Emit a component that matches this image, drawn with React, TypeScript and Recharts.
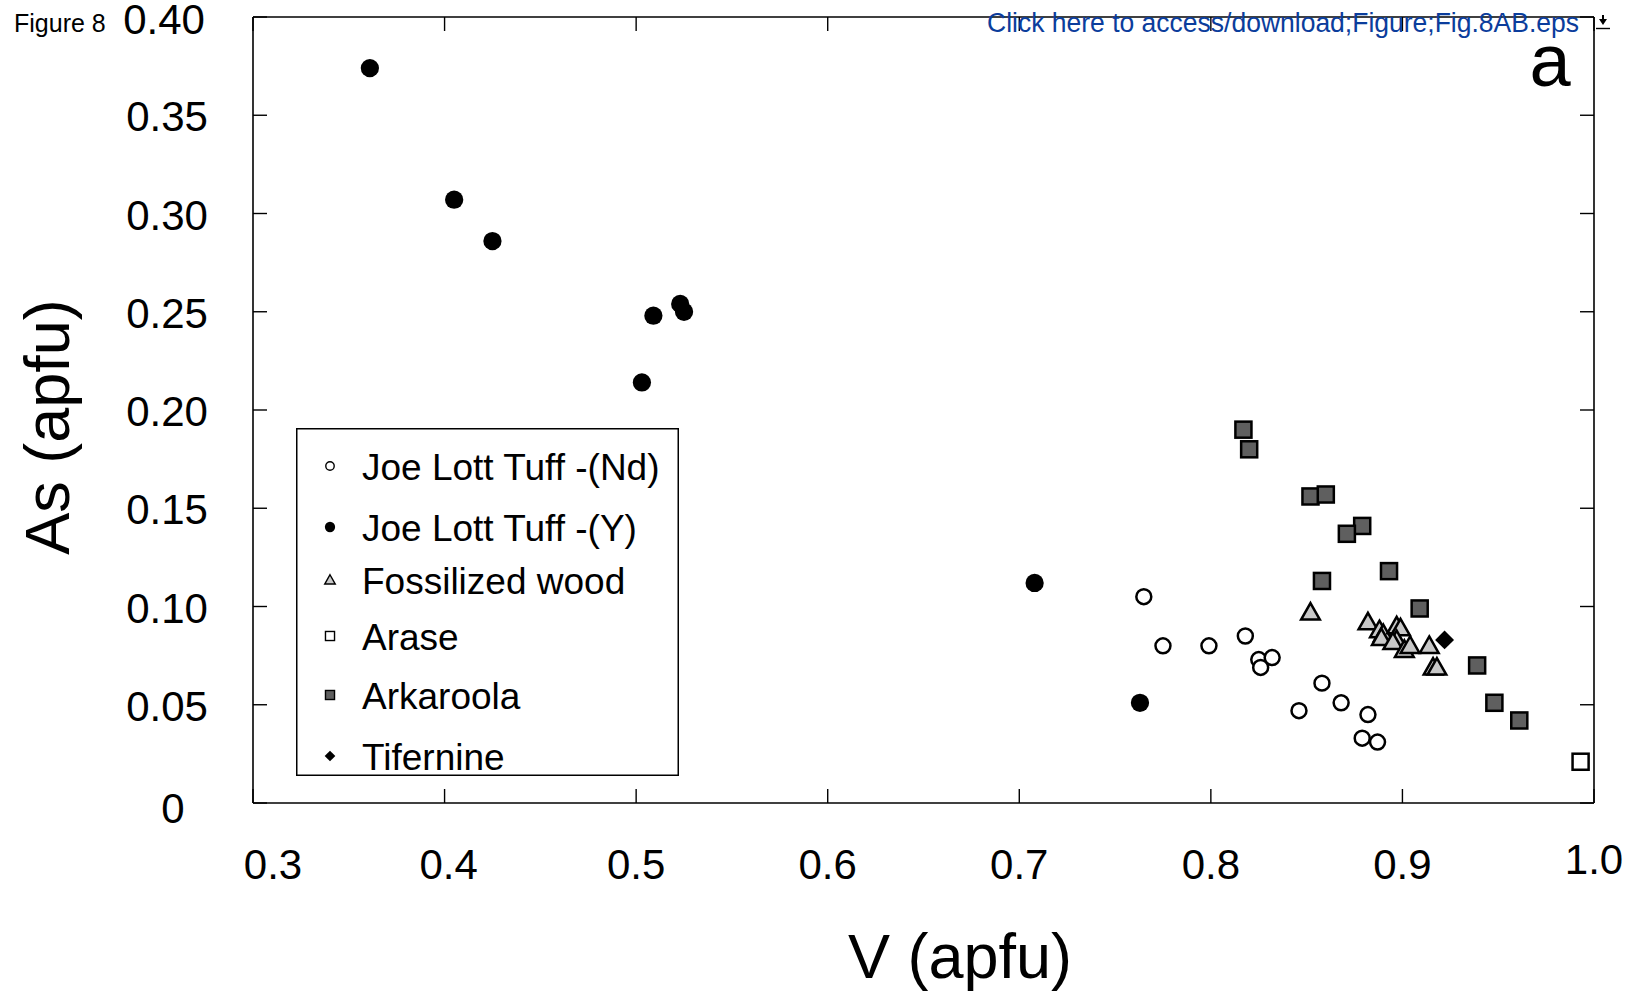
import React from 'react';
import { ScatterChart, Scatter, XAxis, YAxis, Legend } from 'recharts';

// ---------- data ----------
const X_TICKS = [0.3, 0.4, 0.5, 0.6, 0.7, 0.8, 0.9, 1.0];
const X_TICK_LABELS = ['0.3', '0.4', '0.5', '0.6', '0.7', '0.8', '0.9', '1.0'];
const Y_TICKS = [0, 0.05, 0.1, 0.15, 0.2, 0.25, 0.3, 0.35, 0.4];
const Y_TICK_LABELS = ['0', '0.05', '0.10', '0.15', '0.20', '0.25', '0.30', '0.35', '0.40'];

const joeLottNd = [
  { x: 0.765, y: 0.105 },
  { x: 0.775, y: 0.08 },
  { x: 0.799, y: 0.08 },
  { x: 0.818, y: 0.085 },
  { x: 0.825, y: 0.073 },
  { x: 0.826, y: 0.069 },
  { x: 0.832, y: 0.074 },
  { x: 0.858, y: 0.061 },
  { x: 0.846, y: 0.047 },
  { x: 0.868, y: 0.051 },
  { x: 0.882, y: 0.045 },
  { x: 0.879, y: 0.033 },
  { x: 0.887, y: 0.031 },
];

const joeLottY = [
  { x: 0.361, y: 0.374 },
  { x: 0.405, y: 0.307 },
  { x: 0.425, y: 0.286 },
  { x: 0.509, y: 0.248 },
  { x: 0.523, y: 0.254 },
  { x: 0.525, y: 0.25 },
  { x: 0.503, y: 0.214 },
  { x: 0.708, y: 0.112 },
  { x: 0.763, y: 0.051 },
];

const fossilizedWood = [
  { x: 0.852, y: 0.097 },
  { x: 0.882, y: 0.092 },
  { x: 0.888, y: 0.088 },
  { x: 0.89, y: 0.086 },
  { x: 0.889, y: 0.084 },
  { x: 0.897, y: 0.09 },
  { x: 0.899, y: 0.089 },
  { x: 0.897, y: 0.083 },
  { x: 0.895, y: 0.082 },
  { x: 0.901, y: 0.078 },
  { x: 0.904, y: 0.08 },
  { x: 0.914, y: 0.08 },
  { x: 0.916, y: 0.069 },
  { x: 0.918, y: 0.069 },
];

const arase = [{ x: 0.993, y: 0.021 }];

const arkaroola = [
  { x: 0.817, y: 0.19 },
  { x: 0.82, y: 0.18 },
  { x: 0.852, y: 0.156 },
  { x: 0.86, y: 0.157 },
  { x: 0.879, y: 0.141 },
  { x: 0.871, y: 0.137 },
  { x: 0.893, y: 0.118 },
  { x: 0.858, y: 0.113 },
  { x: 0.909, y: 0.099 },
  { x: 0.939, y: 0.07 },
  { x: 0.948, y: 0.051 },
  { x: 0.961, y: 0.042 },
];

const tifernine = [{ x: 0.922, y: 0.083 }];

// ---------- styling ----------
const FONT = '"Liberation Sans", Arial, Helvetica, sans-serif';

type Kind = 'circleOpen' | 'circleFilled' | 'triangle' | 'squareOpen' | 'squareDark' | 'diamond';

const SERIES: { name: string; data: { x: number; y: number }[]; kind: Kind }[] = [
  { name: 'Joe Lott Tuff -(Nd)', data: joeLottNd, kind: 'circleOpen' },
  { name: 'Joe Lott Tuff -(Y)', data: joeLottY, kind: 'circleFilled' },
  { name: 'Fossilized wood', data: fossilizedWood, kind: 'triangle' },
  { name: 'Arase', data: arase, kind: 'squareOpen' },
  { name: 'Arkaroola', data: arkaroola, kind: 'squareDark' },
  { name: 'Tifernine', data: tifernine, kind: 'diamond' },
];

function marker(kind: Kind, cx: number, cy: number, k: number, key?: string) {
  // k ~1.1 for plot markers, ~0.6 for legend markers
  const sw = k > 0.9 ? 2.5 : 1.4;
  switch (kind) {
    case 'circleOpen':
      return <circle key={key} cx={cx} cy={cy} r={6.8 * k} fill="#fff" stroke="#000" strokeWidth={sw} />;
    case 'circleFilled':
      return <circle key={key} cx={cx} cy={cy} r={8.3 * k} fill="#000" stroke="none" />;
    case 'triangle': {
      const hw = 8.5 * k;
      const top = 8.5 * k;
      const bot = 6.5 * k;
      return (
        <path
          key={key}
          d={`M${cx},${cy - top} L${cx + hw},${cy + bot} L${cx - hw},${cy + bot} Z`}
          fill="#c8c8c8"
          stroke="#000"
          strokeWidth={sw}
          strokeLinejoin="miter"
        />
      );
    }
    case 'squareOpen':
    case 'squareDark': {
      const s = 14.6 * k;
      return (
        <rect
          key={key}
          x={cx - s / 2}
          y={cy - s / 2}
          width={s}
          height={s}
          fill={kind === 'squareOpen' ? '#fff' : '#5f5f5f'}
          stroke="#000"
          strokeWidth={sw}
        />
      );
    }
    case 'diamond': {
      const h = 8.6 * k;
      return (
        <path key={key} d={`M${cx},${cy - h} L${cx + h},${cy} L${cx},${cy + h} L${cx - h},${cy} Z`} fill="#000" />
      );
    }
  }
  return null;
}

const tickIndex = (arr: number[], v: number) => arr.findIndex((t) => Math.abs(t - v) < 1e-9);

const BottomTick = (props: any) => {
  const { x, y, payload } = props;
  const v = payload.value;
  const i = tickIndex(X_TICKS, v);
  const label = i >= 0 ? X_TICK_LABELS[i] : String(v);
  const dx = Math.abs(v - 0.3) < 1e-9 ? 20 : Math.abs(v - 0.4) < 1e-9 ? 4 : 0;
  const dy = Math.abs(v - 1) < 1e-9 ? 71 : 76;
  return (
    <g>
      <line x1={x} y1={y} x2={x} y2={y - 14} stroke="#000" strokeWidth={1.4} />
      <text x={x + dx} y={y + dy} textAnchor="middle" fontSize={42} fontFamily={FONT} fill="#000">
        {label}
      </text>
    </g>
  );
};

const TopTick = (props: any) => {
  const { x, y } = props;
  return <line x1={x} y1={y} x2={x} y2={y + 14} stroke="#000" strokeWidth={1.4} />;
};

const LeftTick = (props: any) => {
  const { x, y, payload } = props;
  const v = payload.value;
  const i = tickIndex(Y_TICKS, v);
  const label = i >= 0 ? Y_TICK_LABELS[i] : String(v);
  const isZero = Math.abs(v) < 1e-9;
  const isTop = Math.abs(v - 0.4) < 1e-9;
  return (
    <g>
      <line x1={x} y1={y} x2={x + 14} y2={y} stroke="#000" strokeWidth={1.4} />
      <text
        x={x - 86 + (isZero ? 6 : isTop ? -3 : 0)}
        y={y + (isZero ? 20 : isTop ? 17 : 16)}
        textAnchor="middle"
        fontSize={42}
        fontFamily={FONT}
        fill="#000"
      >
        {label}
      </text>
    </g>
  );
};

const RightTick = (props: any) => {
  const { x, y } = props;
  return <line x1={x} y1={y} x2={x - 14} y2={y} stroke="#000" strokeWidth={1.4} />;
};

const LEGEND_W = 383;
const LEGEND_H = 348;
const LEGEND_ROWS = [39, 100, 153, 209, 268, 329];

const LegendBox = () => (
  <svg width={LEGEND_W} height={LEGEND_H} style={{ display: 'block', overflow: 'visible' }}>
    <rect x={0.75} y={0.75} width={LEGEND_W - 1.5} height={LEGEND_H - 1.5} fill="#fff" stroke="#000" strokeWidth={1.5} />
    {SERIES.map((s, i) => (
      <g key={s.name}>
        {marker(s.kind, 34, LEGEND_ROWS[i] - 1, 0.62)}
        <text x={66} y={LEGEND_ROWS[i] + 13} fontSize={37} fontFamily={FONT} fill="#000">
          {s.name}
        </text>
      </g>
    ))}
  </svg>
);

const AXIS_LINE = { stroke: '#000', strokeWidth: 1.6 };

export default function App() {
  return (
    <div style={{ position: 'absolute', left: 0, top: 0, width: 1632, height: 997, background: '#fff' }}>
      <ScatterChart width={1632} height={997} margin={{ top: 17, right: 38, bottom: 0, left: 0 }}>
        <XAxis
          xAxisId="b"
          type="number"
          dataKey="x"
          orientation="bottom"
          domain={[0.3, 1]}
          ticks={X_TICKS}
          interval={0}
          allowDataOverflow
          height={194}
          tickLine={false}
          tickSize={0}
          tickMargin={0}
          axisLine={AXIS_LINE}
          tick={(p: any) => <BottomTick {...p} />}
        />
        <XAxis
          xAxisId="t"
          type="number"
          dataKey="x"
          orientation="top"
          mirror
          domain={[0.3, 1]}
          ticks={X_TICKS}
          interval={0}
          allowDataOverflow
          tickLine={false}
          tickSize={0}
          tickMargin={0}
          axisLine={AXIS_LINE}
          tick={(p: any) => <TopTick {...p} />}
        />
        <YAxis
          yAxisId="l"
          type="number"
          dataKey="y"
          orientation="left"
          domain={[0, 0.4]}
          ticks={Y_TICKS}
          interval={0}
          allowDataOverflow
          width={253}
          tickLine={false}
          tickSize={0}
          tickMargin={0}
          axisLine={AXIS_LINE}
          tick={(p: any) => <LeftTick {...p} />}
        />
        <YAxis
          yAxisId="r"
          type="number"
          dataKey="y"
          orientation="right"
          mirror
          domain={[0, 0.4]}
          ticks={Y_TICKS}
          interval={0}
          allowDataOverflow
          tickLine={false}
          tickSize={0}
          tickMargin={0}
          axisLine={AXIS_LINE}
          tick={(p: any) => <RightTick {...p} />}
        />
        <Legend
          layout="vertical"
          align="center"
          verticalAlign="middle"
          wrapperStyle={{ left: 296, top: 428, width: LEGEND_W, height: LEGEND_H }}
          content={() => <LegendBox />}
        />
        {SERIES.map((s) => (
          <Scatter
            key={s.name}
            name={s.name}
            data={s.data}
            xAxisId="b"
            yAxisId="l"
            isAnimationActive={false}
            shape={(p: any) => marker(s.kind, p.cx, p.cy, 1.1)}
          />
        ))}
      </ScatterChart>
      <svg
        width={1632}
        height={997}
        style={{ position: 'absolute', left: 0, top: 0, pointerEvents: 'none' }}
      >
        <text x={14} y={32} fontSize={25} fontFamily={FONT} fill="#000">
          Figure 8
        </text>
        <text
          x={987}
          y={32}
          fontSize={27}
          fontFamily={FONT}
          fill="#0b3d9c"
          textLength={592}
          lengthAdjust="spacingAndGlyphs"
        >
          Click here to access/download;Figure;Fig.8AB.eps
        </text>
        <path d="M1599,19 L1607,19 L1603,25 Z M1602,15 L1604,15 L1604,19 L1602,19 Z" fill="#000" />
        <line x1={1596} y1={28.5} x2={1610} y2={28.5} stroke="#000" strokeWidth={1.4} />
        <text x={1550} y={86} fontSize={74} textAnchor="middle" fontFamily={FONT} fill="#000">
          a
        </text>
        <text x={960} y={978} fontSize={63} textAnchor="middle" fontFamily={FONT} fill="#000">
          V (apfu)
        </text>
        <text
          x={69}
          y={427}
          fontSize={63}
          textAnchor="middle"
          fontFamily={FONT}
          fill="#000"
          transform="rotate(-90 69 427)"
        >
          As (apfu)
        </text>
      </svg>
    </div>
  );
}
